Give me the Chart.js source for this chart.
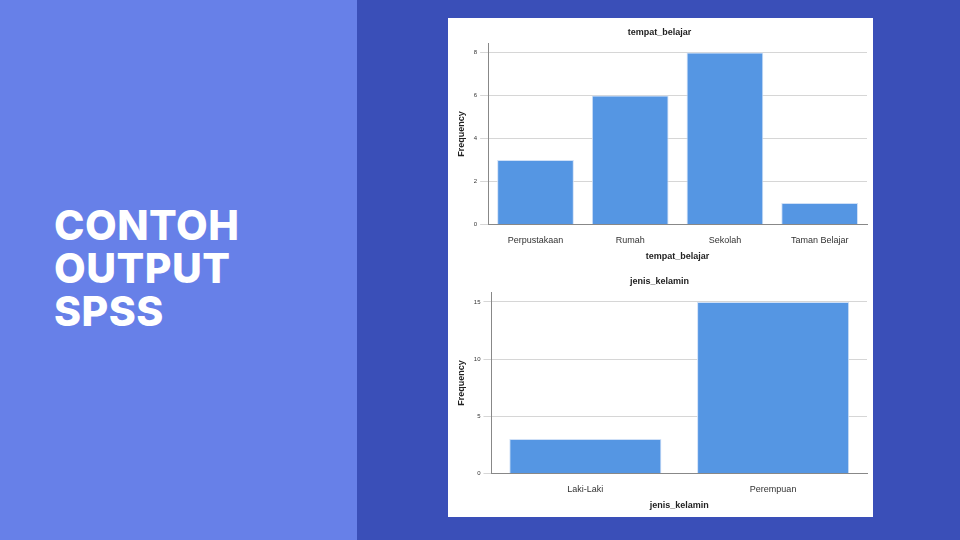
<!DOCTYPE html>
<html><head><meta charset="utf-8">
<script src="https://cdn.jsdelivr.net/npm/chart.js@4.4.0/dist/chart.umd.min.js"></script>
<style>
body{margin:0;width:960px;height:540px;overflow:hidden;position:relative;font-family:Inter,"Liberation Sans",sans-serif;background:#3A4FB8}
#left{position:absolute;left:0;top:0;width:357px;height:540px;background:#6780E8}
#title{position:absolute;left:54px;top:204px;color:#fff;font:800 41px/43px Inter,sans-serif;letter-spacing:0.5px}
#card{position:absolute;left:448px;top:18px;width:425px;height:499px;background:#fff}
.c{position:absolute;left:0;width:425px}
</style></head><body>
<div id="left"></div>
<div id="title">CONTOH<br>OUTPUT<br>SPSS</div>
<div id="card">
<div class="c" style="top:0;height:250px"><canvas id="c1"></canvas></div>
<div class="c" style="top:250px;height:249px"><canvas id="c2"></canvas></div>
</div>
<script>
const tempatLabels=["Perpustakaan","Rumah","Sekolah","Taman Belajar"];
const tempatValues=[3,6,8,1];
const jkLabels=["Laki-Laki","Perempuan"];
const jkValues=[3,15];
function mk(id,labels,data,title,max,step,pad){
 new Chart(document.getElementById(id),{type:'bar',
 data:{labels,datasets:[{data,backgroundColor:'#5596E3',borderColor:'#cfe0f7',borderWidth:1,barPercentage:0.81,categoryPercentage:1}]},
 options:{responsive:true,maintainAspectRatio:false,animation:false,
  layout:{padding:pad},
  plugins:{legend:{display:false},tooltip:{enabled:false},
   title:{display:true,text:title,color:'#222',font:{family:'Liberation Sans',size:9,weight:'bold'},padding:{top:0,bottom:6}}},
  scales:{
   x:{grid:{display:false},border:{color:'#888'},ticks:{color:'#333',font:{family:'Liberation Sans',size:9}},
      title:{display:true,text:title,color:'#222',font:{family:'Liberation Sans',size:9,weight:'bold'},padding:{top:2}}},
   y:{min:0,max:max,afterBuildTicks:a=>{a.ticks=[];for(let v=0;v<=max;v+=step)a.ticks.push({value:v});},
      grid:{color:'#d6d6d6'},border:{color:'#888'},
      ticks:{color:'#333',font:{family:'Liberation Sans',size:6}},
      title:{display:true,text:'Frequency',color:'#222',font:{family:'Liberation Sans',size:9,weight:'bold'}}}
  }}});
}
mk('c1',tempatLabels,tempatValues,'tempat_belajar',8.4,2,{top:9,right:6,left:4,bottom:2});
mk('c2',jkLabels,jkValues,'jenis_kelamin',15.8,5,{top:8,right:6,left:4,bottom:2});
</script></body></html>
